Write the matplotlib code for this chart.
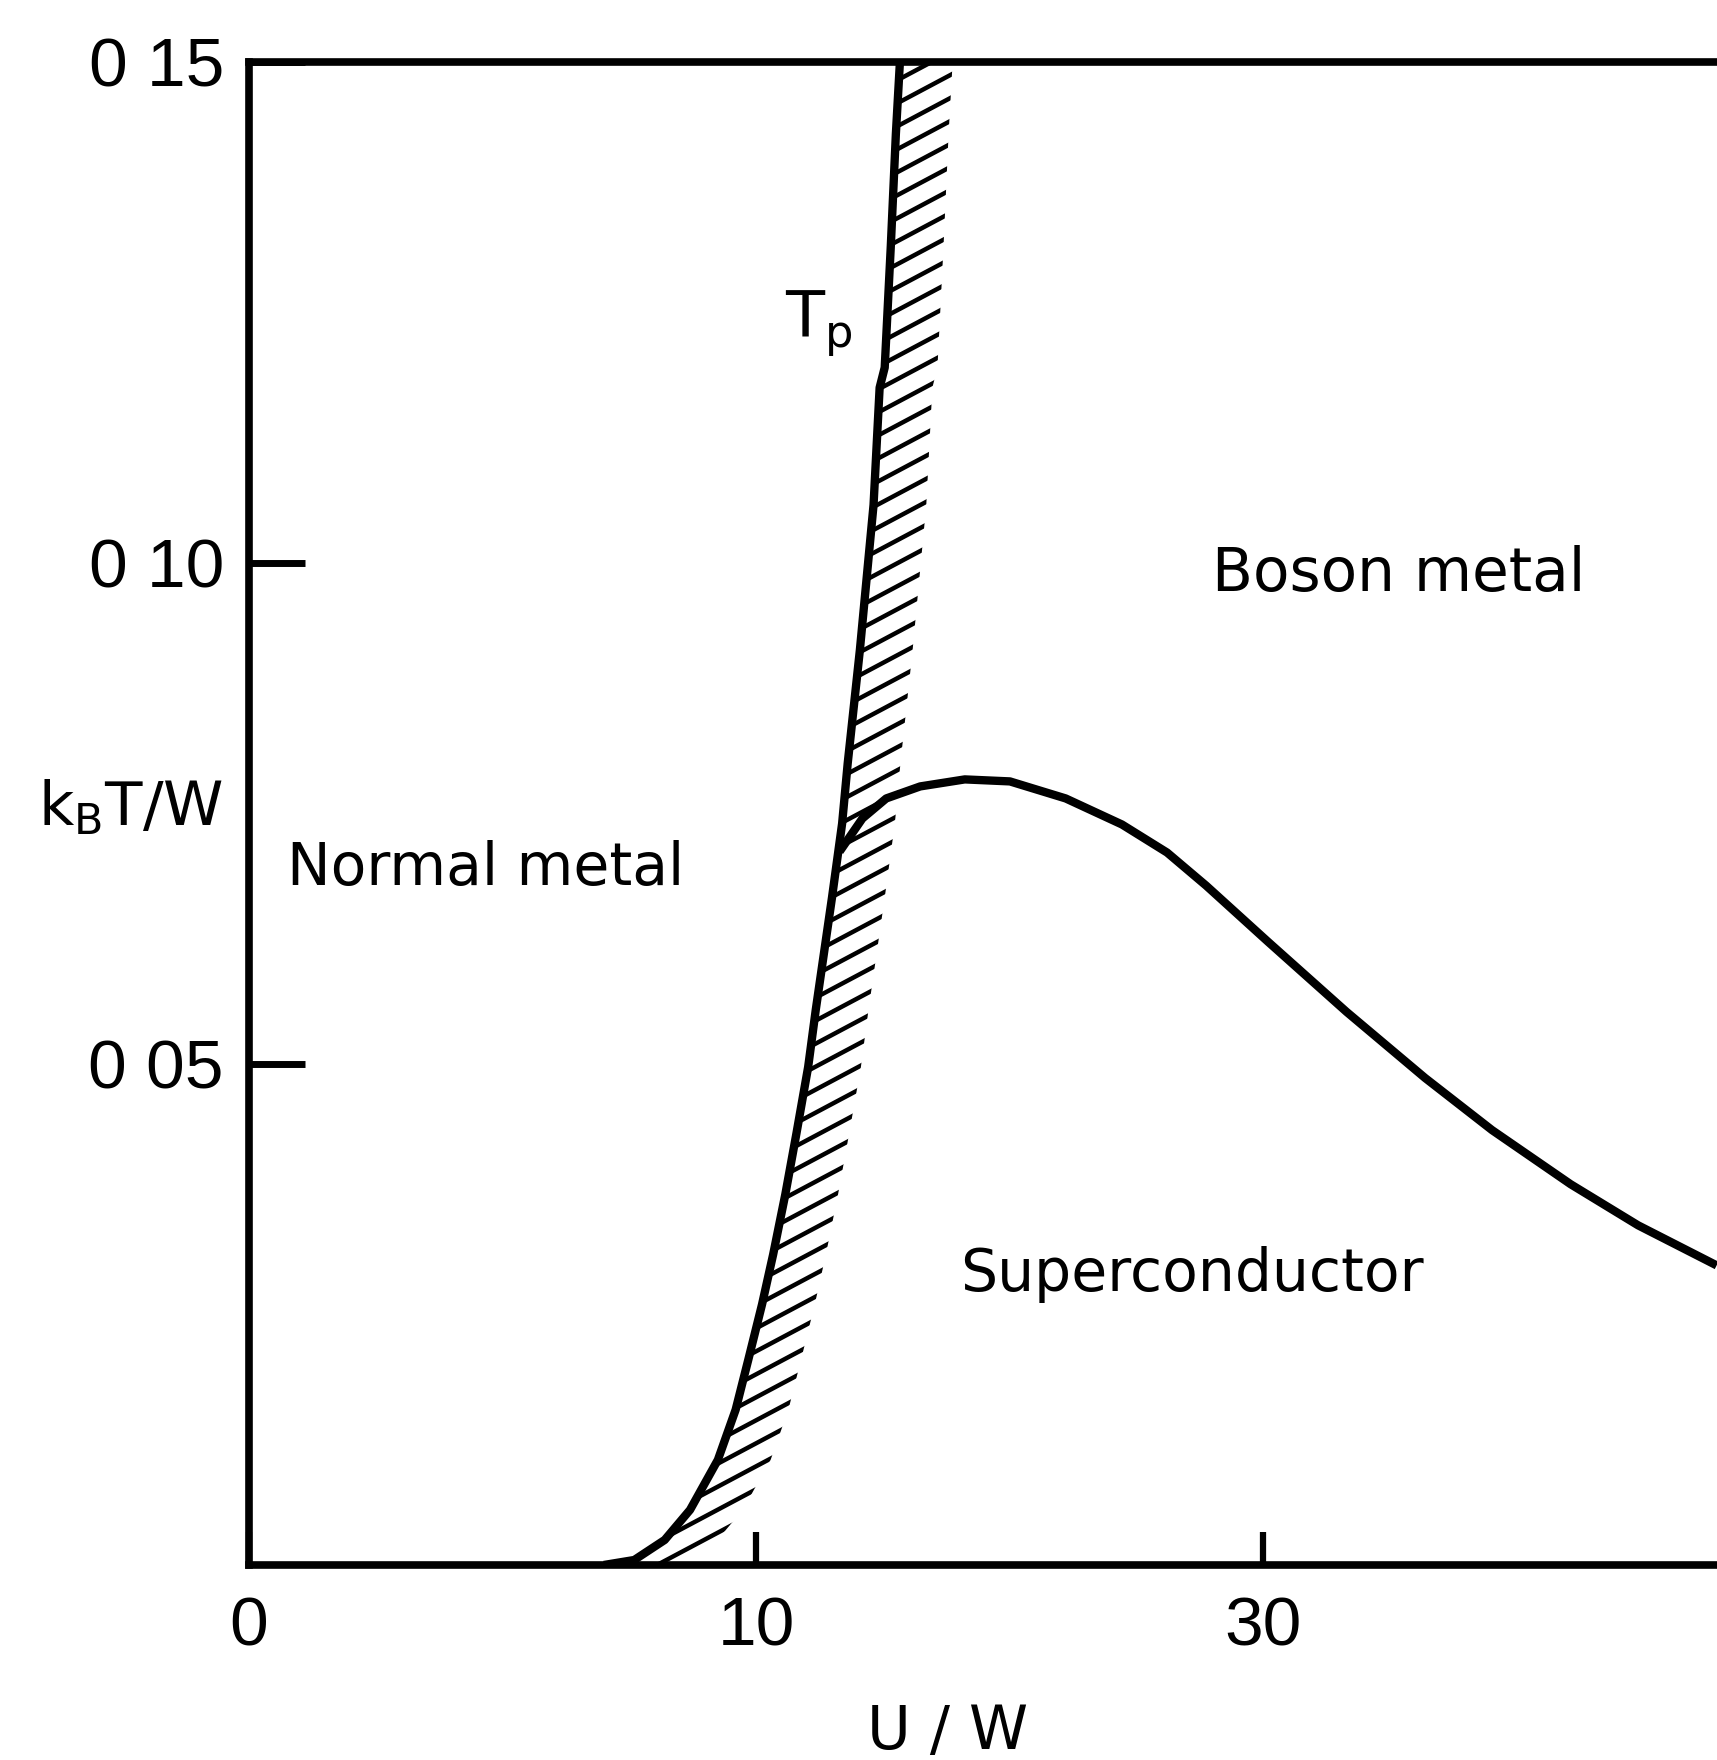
import numpy as np
import matplotlib.pyplot as plt
from matplotlib.patches import Polygon
from matplotlib.collections import LineCollection

# T_p 线 (normal metal 与 boson 区的分界)
tp_u = [0.70, 0.76, 0.82, 0.87, 0.925, 0.96, 0.985, 1.012, 1.034, 1.058,
        1.080, 1.103, 1.118, 1.150, 1.170, 1.181, 1.205, 1.232, 1.244, 1.254,
        1.266, 1.276, 1.284]
tp_t = [0.0, 0.0005, 0.0025, 0.0055, 0.0105, 0.0155, 0.0205, 0.026, 0.031, 0.037,
        0.0431, 0.0497, 0.0554, 0.0666, 0.0740, 0.0800, 0.0913, 0.1058, 0.1175, 0.1195,
        0.1316, 0.1428, 0.15]

# 超导相边界
sc_u = [1.165, 1.210, 1.257, 1.324, 1.412, 1.501, 1.611, 1.722, 1.811, 1.888,
        2.010, 2.165, 2.320, 2.452, 2.607, 2.740, 2.895]
sc_t = [0.0712, 0.0745, 0.0765, 0.0777, 0.0784, 0.0782, 0.0765, 0.0739, 0.0711, 0.0678,
        0.0622, 0.0552, 0.0486, 0.0434, 0.0380, 0.0339, 0.0299]

x_ticks = [0, 1, 2]
x_labels = ['0', '10', '30']
y_ticks = [0.05, 0.10, 0.15]
y_labels = ['0 05', '0 10', '0 15']

# 布局
fig_w, fig_h = 17.17, 17.6
ax_rect = [0.145, 0.1108, 0.8858, 0.8540]
xmax, ymax = 3.0, 0.15
lw = 6

fig = plt.figure(figsize=(fig_w, fig_h), dpi=100)
ax = fig.add_axes(ax_rect)
ax.set_xlim(0, xmax)
ax.set_ylim(0, ymax)

ax.plot(tp_u, tp_t, color='black', lw=lw, solid_capstyle='butt',
        solid_joinstyle='round', zorder=3)
ax.plot(sc_u, sc_t, color='black', lw=lw, solid_capstyle='butt',
        solid_joinstyle='round', zorder=3)

# 斜线阴影带 (T_p 右侧)
band_w = 0.104
tp_u_arr = np.array(tp_u)
tp_t_arr = np.array(tp_t)
verts = np.concatenate([np.column_stack([tp_u_arr, tp_t_arr]),
                        np.column_stack([tp_u_arr + band_w, tp_t_arr])[::-1]])
band = Polygon(verts, closed=True, facecolor='none', edgecolor='none')
ax.add_patch(band)

px_x = ax_rect[2] * fig_w * 100 / xmax
px_y = ax_rect[3] * fig_h * 100 / ymax
slope = np.tan(np.radians(28)) * px_x / px_y
spacing = 23 / px_y
segs = []
for c in np.arange(-0.02, 0.17, spacing):
    segs.append([(0.4, c + slope * (0.4 - 1.0)), (1.6, c + slope * (1.6 - 1.0))])
hatch = LineCollection(segs, colors='black', linewidths=3.2, zorder=2)
ax.add_collection(hatch)
hatch.set_clip_path(band)

# 坐标轴
for side in ['left', 'top', 'bottom']:
    ax.spines[side].set_linewidth(5.5)
ax.spines['right'].set_visible(False)

ax.set_xticks(x_ticks, x_labels)
ax.set_yticks(y_ticks, y_labels)
ax.tick_params(axis='y', direction='in', length=40, width=5, pad=18,
               labelsize=50, labelfontfamily='Liberation Sans')
ax.tick_params(axis='x', direction='in', length=24, width=4.5, pad=22,
               labelsize=50, labelfontfamily='Liberation Sans')

# 区域标注
ax.text(0.075, 0.0679, 'Normal metal', fontsize=42, ha='left', va='baseline')
ax.text(1.899, 0.0972, 'Boson metal', fontsize=43, ha='left', va='baseline')
ax.text(1.402, 0.0273, 'Superconductor', fontsize=42, ha='left', va='baseline')
ax.text(1.057, 0.1225, r'T$_\mathregular{p}$', fontsize=46, ha='left', va='baseline')

fig.text(0.022, 0.531, r'k$_\mathregular{B}$T/W', fontsize=44, ha='left', va='baseline')
fig.text(0.552, 0.006, 'U / W', fontsize=43, ha='center', va='baseline')

fig.savefig('out.png', dpi=100)
